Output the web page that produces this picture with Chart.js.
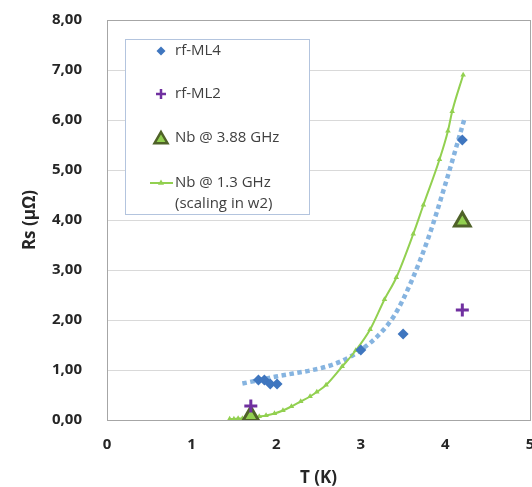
<!DOCTYPE html>
<html>
<head>
<meta charset="utf-8">
<script src="https://cdn.jsdelivr.net/npm/chart.js@4"></script>
<style>
  html, body { margin: 0; padding: 0; background: #fff; overflow: hidden; }
  #wrap { width: 545px; height: 487px; }
</style>
</head>
<body>
<div id="wrap"><canvas id="chartRs"></canvas></div>
<script>
// series names
var seriesNames = ['rf-ML4', 'rf-ML2', 'Nb @ 3.88 GHz', ['Nb @ 1.3 GHz', '(scaling in w2)']];

// rf-ML4
var ml4T  = [1.79, 1.86, 1.93, 2.01, 3.0, 3.5, 4.2];
var ml4Rs = [0.80, 0.80, 0.72, 0.72, 1.40, 1.72, 5.60];

// rf-ML2
var ml2T  = [1.7, 4.2];
var ml2Rs = [0.28, 2.20];

// Nb @ 3.88 GHz
var nb388T  = [1.7, 4.2];
var nb388Rs = [0.08, 3.97];

// Nb @ 1.3 GHz (scaling in w2)
var nb13T  = [1.45, 1.5, 1.55, 1.6, 1.65, 1.7, 1.75, 1.8, 1.88, 1.98, 2.08, 2.18, 2.29, 2.4, 2.48, 2.59, 2.78, 2.94, 3.11, 3.28, 3.42, 3.62, 3.74, 3.93, 4.03, 4.08, 4.21];
var nb13Rs = [0.02, 0.02, 0.03, 0.03, 0.04, 0.05, 0.06, 0.07, 0.09, 0.13, 0.19, 0.27, 0.37, 0.47, 0.56, 0.70, 1.07, 1.39, 1.81, 2.41, 2.85, 3.72, 4.30, 5.21, 5.78, 6.17, 6.90];

// trend line on rf-ML4
var trendT  = [1.6, 1.8, 2.0, 2.2, 2.4, 2.6, 2.8, 3.0, 3.2, 3.4, 3.6, 3.8, 4.0, 4.23];
var trendRs = [0.73, 0.80, 0.87, 0.93, 0.99, 1.07, 1.20, 1.40, 1.68, 2.10, 2.78, 3.65, 4.72, 6.05];

// axis ticks
var xTicks = [0, 1, 2, 3, 4, 5];
var yTicks = [0, 1, 2, 3, 4, 5, 6, 7, 8];

function pts(xs, ys) {
    return xs.map(function(x, i) { return { x: x, y: ys[i] }; });
}

var blue = '#3F76BF';
var purple = '#7030A0';
var green = '#92D050';
var darkGreen = '#4F6228';
var trendBlue = '#86B4E0';

function diamond(ctx, x, y, r) {
    ctx.beginPath();
    ctx.moveTo(x, y - r); ctx.lineTo(x + r, y); ctx.lineTo(x, y + r); ctx.lineTo(x - r, y);
    ctx.closePath();
    ctx.fillStyle = blue; ctx.fill();
}
function plus(ctx, x, y, r) {
    ctx.beginPath();
    ctx.moveTo(x - r, y); ctx.lineTo(x + r, y);
    ctx.moveTo(x, y - r); ctx.lineTo(x, y + r);
    ctx.strokeStyle = purple; ctx.lineWidth = 2.5; ctx.stroke();
}
function triangle(ctx, x, y, r, fill, stroke, lw) {
    ctx.beginPath();
    ctx.moveTo(x, y - r);
    ctx.lineTo(x + r * 0.866, y + r * 0.5);
    ctx.lineTo(x - r * 0.866, y + r * 0.5);
    ctx.closePath();
    ctx.fillStyle = fill; ctx.fill();
    if (stroke) { ctx.strokeStyle = stroke; ctx.lineWidth = lw; ctx.stroke(); }
}

var boxLegend = {
    id: 'boxLegend',
    afterDraw: function(chart) {
        var ctx = chart.ctx;
        ctx.save();
        ctx.fillStyle = '#fff';
        ctx.fillRect(125.5, 39.5, 184, 175);
        ctx.strokeStyle = '#B3C4DE';
        ctx.lineWidth = 1;
        ctx.strokeRect(125.5, 39.5, 184, 175);

        var mx = 161, tx = 175;
        var rows = [51, 94, 138, 183];
        diamond(ctx, mx, rows[0], 4.5);
        plus(ctx, mx, rows[1], 5);
        triangle(ctx, mx, rows[2] + 1.5, 7.5, green, darkGreen, 2.5);
        ctx.beginPath();
        ctx.moveTo(150, rows[3]); ctx.lineTo(173, rows[3]);
        ctx.strokeStyle = green; ctx.lineWidth = 2; ctx.stroke();
        triangle(ctx, mx, rows[3], 3.5, green);

        ctx.fillStyle = '#404040';
        ctx.font = "15px 'Open Sans', sans-serif";
        ctx.textBaseline = 'middle';
        ctx.textAlign = 'left';
        ctx.fillText(seriesNames[0], tx, rows[0]);
        ctx.fillText(seriesNames[1], tx, rows[1]);
        ctx.fillText(seriesNames[2], tx, rows[2]);
        ctx.fillText(seriesNames[3][0], tx, rows[3]);
        ctx.fillText(seriesNames[3][1], tx, rows[3] + 21);
        ctx.restore();
    }
};

var plotFrame = {
    id: 'plotFrame',
    beforeDatasetsDraw: function(chart) {
        var a = chart.chartArea, ctx = chart.ctx;
        ctx.save();
        ctx.strokeStyle = '#A6A6A6';
        ctx.lineWidth = 1;
        ctx.strokeRect(Math.round(a.left) + 0.5, Math.round(a.top) + 0.5,
                       Math.round(a.right - a.left), Math.round(a.bottom - a.top));
        ctx.restore();
    }
};

Chart.defaults.font.family = "'Open Sans', sans-serif";
Chart.defaults.color = '#333';

var ctx = document.getElementById('chartRs');
var myChart = new Chart(ctx, {
    type: 'scatter',
    data: {
        datasets: [{
            label: seriesNames[0],
            data: pts(ml4T, ml4Rs),
            pointStyle: 'rectRot',
            pointRadius: 5.5,
            pointHoverRadius: 5.5,
            backgroundColor: blue,
            borderColor: blue,
            borderWidth: 0,
            order: 1
        }, {
            label: seriesNames[1],
            data: pts(ml2T, ml2Rs),
            pointStyle: 'cross',
            pointRadius: 6.5,
            borderColor: purple,
            borderWidth: 3,
            order: 1
        }, {
            label: seriesNames[2],
            data: pts(nb388T, nb388Rs),
            pointStyle: 'triangle',
            pointRadius: 9,
            backgroundColor: green,
            borderColor: darkGreen,
            borderWidth: 3,
            order: 1
        }, {
            label: seriesNames[3].join(' '),
            data: pts(nb13T, nb13Rs),
            showLine: true,
            cubicInterpolationMode: 'monotone',
            pointStyle: 'triangle',
            pointRadius: 3.2,
            backgroundColor: green,
            borderColor: green,
            borderWidth: 2,
            pointBorderWidth: 0,
            order: 2
        }, {
            label: 'trend',
            data: pts(trendT, trendRs),
            showLine: true,
            cubicInterpolationMode: 'monotone',
            pointRadius: 0,
            borderColor: trendBlue,
            borderWidth: 4.5,
            borderDash: [4.5, 3.5],
            order: 3
        }]
    },
    options: {
        responsive: true,
        maintainAspectRatio: false,
        animation: false,
        events: [],
        layout: { padding: { top: 20, right: 15, bottom: 0, left: 0 } },
        plugins: { legend: { display: false }, tooltip: { enabled: false } },
        scales: {
            x: {
                type: 'linear',
                min: xTicks[0],
                max: xTicks[xTicks.length - 1],
                afterBuildTicks: function(s) { s.ticks = xTicks.map(function(v) { return { value: v }; }); },
                afterFit: function(s) { s.height = 67; s.paddingLeft = 0; s.paddingRight = 0; },
                grid: { display: false, drawTicks: false },
                border: { display: false },
                ticks: { padding: 16, font: { size: 15, weight: 'bold' }, color: '#262626' },
                title: { display: true, text: 'T (K)', font: { size: 17, weight: 'bold', lineHeight: 1.0 }, color: '#262626', padding: { top: 0, bottom: 0 } }
            },
            y: {
                min: yTicks[0],
                max: yTicks[yTicks.length - 1],
                afterBuildTicks: function(s) { s.ticks = yTicks.map(function(v) { return { value: v }; }); },
                afterFit: function(s) { s.width = 107; s.paddingTop = 0; s.paddingBottom = 0; },
                grid: { color: '#D9D9D9', drawTicks: false },
                border: { display: false },
                ticks: {
                    padding: 25,
                    font: { size: 15, weight: 'bold' },
                    color: '#262626',
                    callback: function(v) { return v.toFixed(2).replace('.', ','); }
                },
                title: { display: true, text: 'Rs (μΩ)', font: { size: 17, weight: 'bold' }, color: '#262626', padding: { top: 20, bottom: 0 } }
            }
        }
    },
    plugins: [plotFrame, boxLegend]
});
</script>
</body>
</html>
